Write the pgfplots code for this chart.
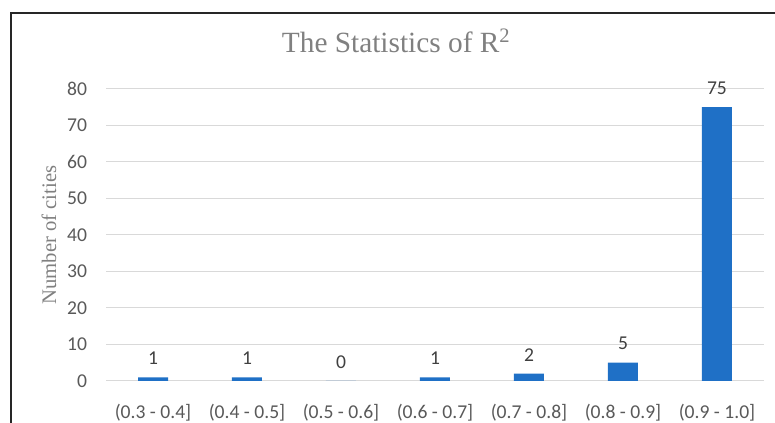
\documentclass[border=0pt]{standalone}
\usepackage{fontspec}
\setmainfont{Carlito}
\newfontfamily\seriffont{Liberation Serif}
\usepackage{pgfplots}
\pgfplotsset{compat=1.18}
\definecolor{barblue}{RGB}{31,112,198}
\definecolor{gridgray}{RGB}{217,217,217}
\definecolor{tickgray}{RGB}{89,89,89}
\definecolor{titlegray}{RGB}{128,128,128}
\definecolor{labelgray}{RGB}{64,64,64}
\begin{document}
\begin{tikzpicture}
\useasboundingbox (0,0) rectangle (581.25pt,317.25pt);
% chart frame (only top and left edges are visible in the reference)
\draw[line width=1.5pt, black!85] (8.25pt,0) -- (8.25pt,307.5pt) -- (581.25pt,307.5pt);
\begin{axis}[
    at={(79.5pt,31.5pt)}, anchor=south west,
    scale only axis,
    width=493.5pt, height=219pt,
    ybar, bar width=22.5pt,
    xmin=-0.5, xmax=6.5,
    ymin=0, ymax=80,
    ytick={0,10,...,80},
    xtick={0,...,6},
    xticklabels={{(0.3 - 0.4]},{(0.4 - 0.5]},{(0.5 - 0.6]},{(0.6 - 0.7]},{(0.7 - 0.8]},{(0.8 - 0.9]},{(0.9 - 1.0]}},
    axis line style={draw=none},
    major tick style={draw=none},
    ymajorgrids,
    grid style={gridgray, line width=0.75pt},
    /pgf/number format/assume math mode=true,
    tick label style={font=\fontsize{14.7}{17}\selectfont, text=tickgray},
    xticklabel style={anchor=base, yshift=-23.5pt},
    yticklabel style={anchor=east, inner sep=0pt, xshift=-14pt},
    title={\seriffont The Statistics of R\textsuperscript{2}},
    title style={at={(axis description cs:0.441,1)}, anchor=base, yshift=21.5pt,
        font=\fontsize{22}{26}\selectfont, text=titlegray},
    ylabel={\seriffont Number of cities},
    every axis y label/.style={at={(axis description cs:-0.0866,0.5)}, rotate=90, anchor=center,
        font=\fontsize{15.5}{18}\selectfont, text=titlegray},
    nodes near coords,
    every node near coord/.append style={anchor=center, yshift=14.25pt,
        font=\fontsize{14.7}{17}\selectfont, text=labelgray},
]
\addplot[fill=barblue, draw=none] coordinates {(0,1) (1,1) (2,0) (3,1) (4,2) (5,5) (6,75)};
\end{axis}
\end{tikzpicture}
\end{document}
